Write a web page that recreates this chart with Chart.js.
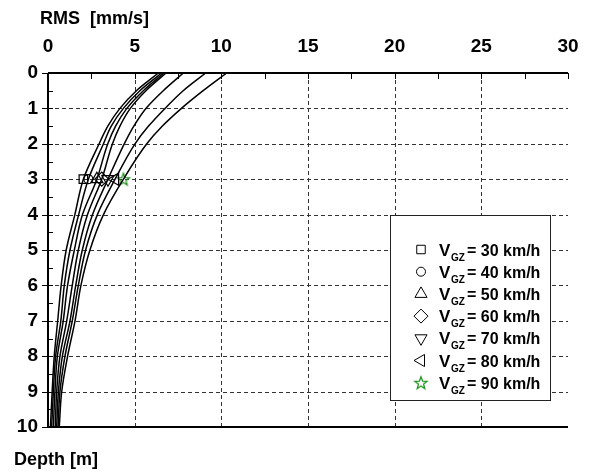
<!DOCTYPE html>
<html>
<head>
<meta charset="utf-8">
<script src="https://cdn.jsdelivr.net/npm/chart.js@4/dist/chart.umd.min.js"></script>
<style>
  html, body { margin: 0; padding: 0; background: #fff; }
</style>
</head>
<body>
<canvas id="grafico" width="595" height="474"></canvas>
<script>
// depth steps (m) and RMS values (mm/s) per train speed
const depths = [0, 0.5, 1, 1.5, 2, 3, 4, 5, 6, 7, 8, 9, 10];
const speeds = [30, 40, 50, 60, 70, 80, 90];
const rms30 = [6.37, 5.10, 4.15, 3.45, 2.95, 2.04, 1.55, 1.05, 0.76, 0.56, 0.36, 0.24, 0.14];
const rms40 = [6.56, 5.30, 4.35, 3.65, 3.20, 2.33, 1.77, 1.27, 0.94, 0.74, 0.44, 0.31, 0.21];
const rms50 = [6.69, 5.50, 4.55, 3.90, 3.45, 2.82, 1.99, 1.52, 1.13, 0.88, 0.54, 0.40, 0.31];
const rms60 = [6.81, 5.65, 4.75, 4.15, 3.72, 3.10, 2.28, 1.75, 1.40, 1.08, 0.69, 0.50, 0.42];
const rms70 = [7.81, 6.65, 5.65, 4.95, 4.40, 3.46, 2.57, 1.98, 1.60, 1.27, 0.83, 0.60, 0.50];
const rms80 = [9.10, 7.80, 6.75, 5.80, 5.02, 3.87, 2.85, 2.17, 1.75, 1.40, 0.98, 0.69, 0.58];
const rms90 = [10.31, 8.95, 7.70, 6.60, 5.70, 4.35, 3.20, 2.42, 1.90, 1.56, 1.13, 0.79, 0.65];
const curves = [rms30, rms40, rms50, rms60, rms70, rms80, rms90];
const markerDepth = 3;
const legendLabels = speeds.map(v => '= ' + v + ' km/h');

// green star marker
const star = document.createElement('canvas');
star.width = 16; star.height = 16;
(function () {
  const c = star.getContext('2d');
  c.strokeStyle = '#1a8c1a';
  c.lineWidth = 1.2;
  c.beginPath();
  for (let i = 0; i < 10; i++) {
    const r = i % 2 === 0 ? 6.5 : 2.7;
    const a = -Math.PI / 2 + i * Math.PI / 5;
    const px = 8 + r * Math.cos(a), py = 8.5 + r * Math.sin(a);
    i === 0 ? c.moveTo(px, py) : c.lineTo(px, py);
  }
  c.closePath();
  c.stroke();
})();

const markerStyles = [
  { pointStyle: 'rect', radius: 6, rotation: 0 },
  { pointStyle: 'circle', radius: 4.5, rotation: 0 },
  { pointStyle: 'triangle', radius: 7, rotation: 0 },
  { pointStyle: 'rectRot', radius: 7, rotation: 0 },
  { pointStyle: 'triangle', radius: 7, rotation: 180 },
  { pointStyle: 'triangle', radius: 7, rotation: -90 },
  { pointStyle: star, radius: 7, rotation: 0 }
];

const lineSets = curves.map(arr => ({
  data: arr.map((v, i) => ({ x: v, y: depths[i] })),
  borderColor: '#000',
  borderWidth: 1.5,
  pointRadius: 0,
  cubicInterpolationMode: 'monotone',
  fill: false
}));

const markerSets = curves.map((arr, k) => ({
  data: [{ x: arr[depths.indexOf(markerDepth)], y: markerDepth }],
  showLine: false,
  pointStyle: markerStyles[k].pointStyle,
  pointRadius: markerStyles[k].radius,
  pointRotation: markerStyles[k].rotation,
  pointBorderColor: '#000',
  pointBackgroundColor: 'rgba(0,0,0,0)',
  pointBorderWidth: 1.2
}));

const decor = {
  id: 'decor',
  beforeDatasetsDraw(chart) {
    const { ctx, chartArea: a, scales: { x, y } } = chart;
    ctx.save();
    ctx.strokeStyle = '#333';
    ctx.lineWidth = 1;
    ctx.setLineDash([4, 3]);
    for (let v = 5; v < 30; v += 5) {
      const px = Math.round(x.getPixelForValue(v)) + 0.5;
      ctx.beginPath(); ctx.moveTo(px, a.top); ctx.lineTo(px, a.bottom); ctx.stroke();
    }
    for (let v = 1; v < 10; v++) {
      const py = Math.round(y.getPixelForValue(v)) + 0.5;
      ctx.beginPath(); ctx.moveTo(a.left, py); ctx.lineTo(a.right, py); ctx.stroke();
    }
    ctx.restore();
  },
  afterDatasetsDraw(chart) {
    const { ctx, chartArea: a, scales: { x, y } } = chart;
    ctx.save();
    ctx.strokeStyle = '#000';
    ctx.lineWidth = 2;
    ctx.beginPath();
    ctx.moveTo(a.left, a.top); ctx.lineTo(a.right, a.top);
    ctx.moveTo(a.left, a.top); ctx.lineTo(a.left, a.bottom);
    ctx.moveTo(a.left, a.bottom); ctx.lineTo(a.right, a.bottom);
    ctx.stroke();
    ctx.lineWidth = 1;
    ctx.beginPath();
    for (let v = 0; v <= 30; v += 2.5) {
      const px = Math.round(x.getPixelForValue(v)) + 0.5;
      ctx.moveTo(px, a.top); ctx.lineTo(px, a.top + 6);
    }
    for (let v = 0; v <= 10; v += 0.5) {
      const py = Math.round(y.getPixelForValue(v)) + 0.5;
      const major = v % 1 === 0;
      ctx.moveTo(a.left - (major ? 6 : 0), py); ctx.lineTo(a.left + 5, py);
    }
    ctx.stroke();
    ctx.restore();
  },
  afterDraw(chart) {
    const { ctx } = chart;
    ctx.save();
    ctx.fillStyle = '#000';
    ctx.textBaseline = 'alphabetic';
    ctx.textAlign = 'left';
    ctx.font = 'bold 18px "Liberation Sans", Arial, sans-serif';
    ctx.fillText('RMS  [mm/s]', 40, 24);
    ctx.fillText('Depth [m]', 14, 465);

    // legend box
    const bx = 390.5, by = 215.5, bw = 160, bh = 185;
    ctx.fillStyle = '#fff';
    ctx.fillRect(bx, by, bw, bh);
    ctx.strokeStyle = '#222';
    ctx.lineWidth = 1;
    ctx.strokeRect(bx, by, bw, bh);
    const rowY = 249.5, step = 22.2;
    markerStyles.forEach((m, k) => {
      const cy = rowY + k * step;
      ctx.strokeStyle = '#000';
      ctx.fillStyle = 'rgba(0,0,0,0)';
      Chart.helpers.drawPoint(ctx, { pointStyle: m.pointStyle, radius: m.radius, rotation: m.rotation, borderWidth: 1.2 }, 421, cy);
      ctx.fillStyle = '#000';
      ctx.font = 'bold 17px "Liberation Sans", Arial, sans-serif';
      ctx.fillText('V', 439, cy + 6);
      ctx.font = 'bold 10px "Liberation Sans", Arial, sans-serif';
      ctx.fillText('GZ', 451, cy + 11);
      ctx.font = 'bold 16px "Liberation Sans", Arial, sans-serif';
      ctx.fillText(legendLabels[k], 467, cy + 6);
    });
    ctx.restore();
  }
};

new Chart(document.getElementById('grafico'), {
  type: 'line',
  data: { datasets: [...lineSets, ...markerSets] },
  options: {
    indexAxis: 'y',
    responsive: false,
    animation: false,
    layout: { padding: { top: 0, left: 0, right: 27, bottom: 47 } },
    plugins: { legend: { display: false }, tooltip: { enabled: false } },
    scales: {
      x: {
        type: 'linear', position: 'top', min: 0, max: 30,
        ticks: { stepSize: 5, color: '#000', font: { family: '"Liberation Sans", Arial', size: 19, weight: 'bold' }, padding: 15 },
        grid: { display: false, drawTicks: false },
        border: { display: false },
        afterFit(s) { s.height = 73; }
      },
      y: {
        type: 'linear', position: 'left', reverse: true, min: 0, max: 10,
        ticks: { stepSize: 1, color: '#000', font: { family: '"Liberation Sans", Arial', size: 19, weight: 'bold' }, padding: 10 },
        grid: { display: false, drawTicks: false },
        border: { display: false },
        afterFit(s) { s.width = 48; }
      }
    }
  },
  plugins: [decor]
});
</script>
</body>
</html>
